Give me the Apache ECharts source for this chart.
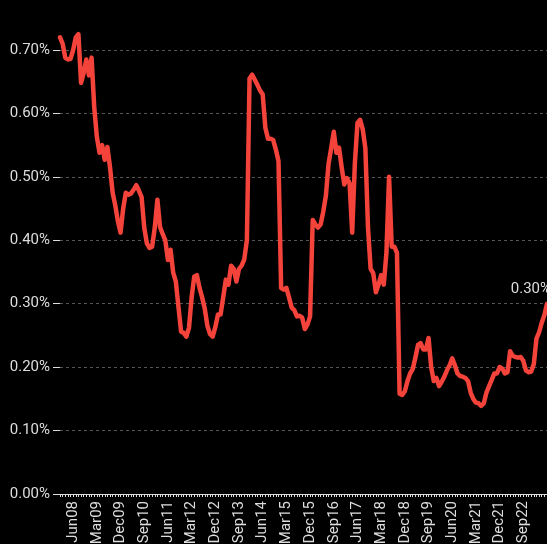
<!DOCTYPE html>
<html>
<head>
<meta charset="utf-8">
<script src="https://cdn.jsdelivr.net/npm/echarts@6/dist/echarts.min.js"></script>
<style>html,body{margin:0;padding:0;background:#000;}#c{width:547px;height:544px;}</style>
</head>
<body>
<div id="c"></div>
<script>
// Monthly categories Jan08 .. Jun23
var months = ['Jan','Feb','Mar','Apr','May','Jun','Jul','Aug','Sep','Oct','Nov','Dec'];
var categories = [];
for (var y = 2008; y <= 2023; y++) {
  for (var m = 0; m < 12; m++) {
    if (y === 2023 && m > 5) break;
    categories.push(months[m] + String(y).slice(2));
  }
}
// Values in percent
var values = [
  0.72,0.71,0.688,0.685,0.686,0.70,0.72,0.725,0.648,0.664,0.685,0.66,
  0.688,0.61,0.563,0.538,0.55,0.527,0.547,0.515,0.475,0.455,0.43,0.412,
  0.45,0.475,0.472,0.474,0.48,0.487,0.478,0.468,0.42,0.395,0.388,0.39,
  0.42,0.464,0.421,0.41,0.40,0.369,0.385,0.349,0.335,0.295,0.256,0.254,
  0.248,0.262,0.31,0.343,0.345,0.325,0.31,0.292,0.265,0.252,0.248,0.263,
  0.283,0.283,0.31,0.338,0.33,0.36,0.355,0.335,0.355,0.36,0.37,0.40,
  0.655,0.661,0.653,0.645,0.636,0.63,0.578,0.56,0.56,0.558,0.543,0.525,
  0.325,0.322,0.325,0.31,0.294,0.29,0.28,0.281,0.278,0.26,0.267,0.28,
  0.432,0.425,0.42,0.425,0.445,0.47,0.52,0.545,0.571,0.538,0.546,0.515,
  0.488,0.498,0.49,0.412,0.52,0.585,0.59,0.575,0.545,0.42,0.355,0.348,
  0.318,0.33,0.345,0.33,0.38,0.50,0.39,0.39,0.38,0.158,0.156,0.162,
  0.178,0.19,0.197,0.215,0.235,0.238,0.228,0.228,0.246,0.20,0.178,0.183,
  0.17,0.177,0.185,0.195,0.203,0.214,0.203,0.19,0.186,0.185,0.183,0.178,
  0.16,0.15,0.144,0.143,0.139,0.143,0.16,0.17,0.18,0.19,0.19,0.20,
  0.198,0.19,0.192,0.225,0.218,0.216,0.215,0.216,0.21,0.195,0.192,0.193,
  0.205,0.245,0.255,0.27,0.282,0.30
];
var yTicks = [0, 0.1, 0.2, 0.3, 0.4, 0.5, 0.6, 0.7];
var labelOffset = 5; // Jun08 is index 5, labels every 9 months

var chart = echarts.init(document.getElementById('c'));
chart.setOption({
  backgroundColor: '#000',
  animation: false,
  textStyle: { fontFamily: 'Roboto' },
  grid: { left: 60, right: 0, top: 50, bottom: 50, containLabel: false, outerBoundsMode: 'none' },
  xAxis: {
    type: 'category',
    data: categories,
    boundaryGap: false,
    axisLine: { show: true, lineStyle: { color: '#ddd', width: 1 } },
    axisTick: { show: true, interval: 0, length: 3, lineStyle: { color: '#ddd' } },
    axisLabel: {
      rotate: 90,
      color: '#ddd',
      fontSize: 15,
      margin: 7,
      interval: function (i) { return i >= labelOffset && i < categories.length - 1 && (i - labelOffset) % 9 === 0; }
    },
    splitLine: { show: false }
  },
  yAxis: {
    type: 'value',
    min: 0,
    max: yTicks[yTicks.length - 1],
    interval: 0.1,
    axisLine: { show: false },
    axisTick: { show: true, length: 7, lineStyle: { color: '#ddd' } },
    axisLabel: {
      color: '#ddd',
      fontSize: 15,
      margin: 10,
      formatter: function (v) { return v.toFixed(2) + '%'; }
    },
    splitLine: { show: true, lineStyle: { color: '#555', type: [3, 3], width: 1 } }
  },
  series: [{
    type: 'line',
    data: values,
    clip: false,
    showSymbol: false,
    smooth: false,
    lineStyle: { color: '#f4433b', width: 4.5, join: 'round', cap: 'round' },
    itemStyle: { color: '#f4433b' },
    endLabel: {
      show: true,
      color: '#ddd',
      fontSize: 15,
      align: 'right',
      verticalAlign: 'bottom',
      offset: [-4, -7],
      formatter: function (p) { return p.value.toFixed(2) + '%'; }
    }
  }]
});
</script>
</body>
</html>
